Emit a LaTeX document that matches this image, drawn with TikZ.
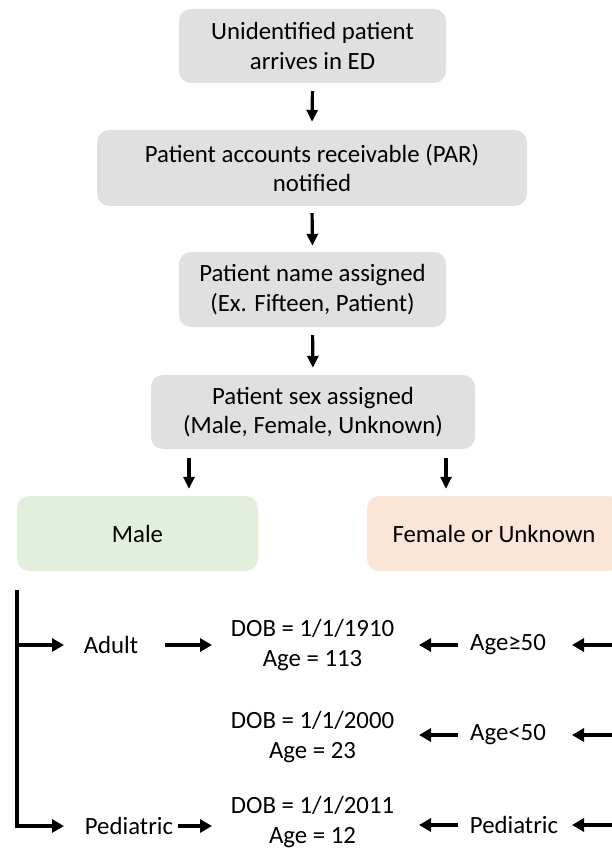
\documentclass[tikz,border=0pt]{standalone}
\usepackage{fontspec}
\setmainfont{Carlito}
\usetikzlibrary{arrows.meta}
\definecolor{boxgray}{HTML}{E0E0E0}
\definecolor{malegreen}{HTML}{E2EFDA}
\definecolor{femorange}{HTML}{FBE5D6}
\begin{document}
\begin{tikzpicture}[x=1pt,y=-1pt,
  font=\fontsize{24.8}{29.5}\selectfont,
  box/.style={rounded corners=12pt, fill=boxgray, align=center, inner sep=0pt},
  varr/.style={line width=3.2pt, -{Triangle[width=11pt,length=12pt]}},
  arr/.style={line width=3.8pt, -{Triangle[width=13pt,length=12pt]}},
  lbl/.style={align=center, inner sep=0pt}]
\useasboundingbox (0,0) rectangle (612,850);
\clip (0,0) rectangle (612,850);
% top boxes
\node[box, minimum width=267pt, minimum height=74pt] (b1) at (312.5,46) {Unidentified patient\\arrives in ED};
\node[box, minimum width=430pt, minimum height=76pt] (b2) at (312,168) {Patient accounts receivable (PAR)\\notified};
\node[box, minimum width=267pt, minimum height=75pt] (b3) at (312.5,289.5) {Patient name assigned\\(Ex. Fifteen, Patient)};
\node[box, minimum width=324pt, minimum height=74pt] (b4) at (313,412) {Patient sex assigned\\(Male, Female, Unknown)};
\node[box, fill=malegreen, minimum width=241pt, minimum height=75pt] (male) at (137.5,533.5) {Male};
\node[box, fill=femorange, minimum width=254pt, minimum height=75pt] (fem) at (494,533.5) {Female or Unknown};
\draw[varr, shorten <=8pt, shorten >=8pt] (b1.south) -- (b2.north);
\draw[varr, shorten <=7pt, shorten >=6pt] (b2.south) -- (b3.north);
\draw[varr, shorten <=8pt, shorten >=7pt] (b3.south) -- (b4.north);
\draw[varr, shorten <=9pt, shorten >=7pt] ([xshift=-124pt]b4.south) -- ([xshift=-124pt]b4.south |- male.north);
\draw[varr, shorten <=9pt, shorten >=7pt] ([xshift=133pt]b4.south) -- ([xshift=133pt]b4.south |- fem.north);
% bottom labels
\node[lbl] (adult) at (111,645) {Adult};
\node[lbl] (pedl) at (129,826) {Pediatric};
\node[lbl] (dob1) at (312.5,645) {DOB = 1/1/1910\\Age = 113};
\node[lbl] (dob2) at (312.5,737) {DOB = 1/1/2000\\Age = 23};
\node[lbl] (dob3) at (312.5,822) {DOB = 1/1/2011\\Age = 12};
\node[lbl] (age50) at (508,645) {Age≥50};
\node[lbl] (agel50) at (508,735) {Age<50};
\node[lbl] (pedr) at (514,825) {Pediatric};
% left branch
\coordinate (ltop) at (17,590);
\coordinate (lbot) at (17,826);
\draw[line width=3.6pt] (ltop) -- (lbot);
\draw[arr] ([xshift=-1.8pt]ltop |- adult) -- (adult.west -| 64,0);
\draw[arr] ([xshift=-1.8pt]lbot) -- (pedl.west -| 64,0);
\draw[arr] (adult.east -| 165,0) -- (adult.east -| 212,0);
\draw[arr] (pedl.east -| 178,0) -- (pedl.east -| 212,0);
% right branch
\coordinate (rtop) at (620,645);
\coordinate (rmid) at (620,735);
\coordinate (rbot) at (620,825);
\draw[arr] (age50.west -| 458,0) -- (age50.west -| 419,0);
\draw[arr] (agel50.west -| 458,0) -- (agel50.west -| 419,0);
\draw[arr] (pedr.west -| 458,0) -- (pedr.west -| 419,0);
\draw[arr] (rtop) -- (age50.east -| 572,0);
\draw[arr] (rmid) -- (agel50.east -| 572,0);
\draw[arr] (rbot) -- (pedr.east -| 572,0);
\end{tikzpicture}
\end{document}
